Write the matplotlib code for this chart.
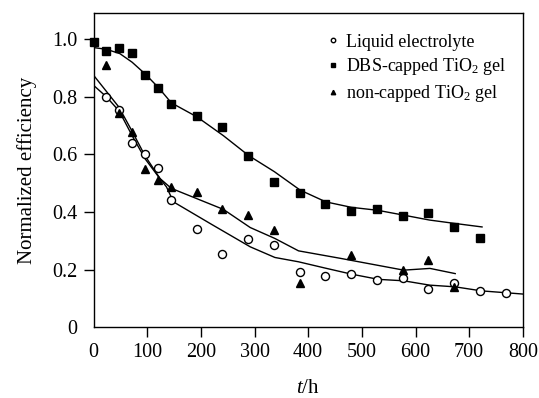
import matplotlib
matplotlib.use("Agg")
import matplotlib.pyplot as plt

plt.rcParams["font.family"] = ["Liberation Serif", "DejaVu Serif"]
plt.rcParams["mathtext.fontset"] = "custom"
plt.rcParams["mathtext.rm"] = "Liberation Serif"
plt.rcParams["mathtext.it"] = "Liberation Serif:italic"

# measured points (t in hours)
liquid_t = [24, 48, 72, 96, 120, 144, 192, 240, 288, 336, 384, 432, 480, 528, 576, 624, 672, 720, 768]
liquid_eff = [0.80, 0.753, 0.638, 0.603, 0.551, 0.443, 0.340, 0.253, 0.306, 0.285, 0.191, 0.177,
              0.186, 0.163, 0.170, 0.134, 0.154, 0.124, 0.117]

dbs_t = [0, 24, 48, 72, 96, 120, 144, 192, 240, 288, 336, 384, 432, 480, 528, 576, 624, 672, 720]
dbs_eff = [0.99, 0.96, 0.968, 0.952, 0.874, 0.829, 0.775, 0.735, 0.695, 0.596, 0.503, 0.466,
           0.426, 0.404, 0.410, 0.387, 0.395, 0.347, 0.308]

noncap_t = [24, 48, 72, 96, 120, 144, 192, 240, 288, 336, 384, 480, 576, 624, 672]
noncap_eff = [0.912, 0.742, 0.678, 0.549, 0.51, 0.487, 0.47, 0.412, 0.389, 0.337, 0.154,
              0.252, 0.200, 0.233, 0.140]

# fitted trend lines
liquid_fit_t = [0, 24, 48, 72, 96, 120, 136, 149, 220, 292, 338, 382, 432, 481, 531, 578, 626, 674, 723, 800]
liquid_fit = [0.84, 0.80, 0.75, 0.665, 0.585, 0.525, 0.487, 0.435, 0.357, 0.279, 0.242, 0.227,
              0.205, 0.184, 0.166, 0.161, 0.146, 0.14, 0.126, 0.115]

noncap_fit_t = [0, 47, 72, 96, 124, 145, 242, 292, 338, 382, 460, 578, 627, 674]
noncap_fit = [0.875, 0.765, 0.68, 0.595, 0.516, 0.482, 0.409, 0.346, 0.308, 0.265, 0.239,
              0.198, 0.204, 0.186]

dbs_fit_t = [0, 24, 49, 72, 97, 121, 145, 193, 242, 289, 337, 385, 433, 481, 529, 578, 626, 674, 724]
dbs_fit = [0.971, 0.965, 0.95, 0.92, 0.878, 0.832, 0.779, 0.73, 0.665, 0.596, 0.54, 0.476,
           0.435, 0.416, 0.406, 0.389, 0.372, 0.36, 0.348]

fig = plt.figure(figsize=(5.39, 3.98), dpi=100)
ax = fig.add_axes([0.1735, 0.178, 0.7965, 0.7886])

ax.plot(liquid_fit_t, liquid_fit, color="black", lw=1.0)
ax.plot(noncap_fit_t, noncap_fit, color="black", lw=1.0)
ax.plot(dbs_fit_t, dbs_fit, color="black", lw=1.0)

ax.plot(liquid_t, liquid_eff, "o", ms=5.8, mfc="white", mec="black", mew=1.0,
        label="Liquid electrolyte", clip_on=False)
ax.plot(dbs_t, dbs_eff, "s", ms=5.2, color="black",
        label="DBS-capped TiO$_2$ gel", clip_on=False)
ax.plot(noncap_t, noncap_eff, "^", ms=5.8, color="black",
        label="non-capped TiO$_2$ gel", clip_on=False)

ax.set_xlim(0, 800)
ax.set_ylim(0, 1.09)
ax.set_xticks([0, 100, 200, 300, 400, 500, 600, 700, 800])
ax.set_yticks([0, 0.2, 0.4, 0.6, 0.8, 1.0])
ax.set_yticklabels(["0", "0.2", "0.4", "0.6", "0.8", "1.0"])
ax.tick_params(direction="out", length=7, width=1.0, labelsize=14.5, pad=4.5)
ax.xaxis.get_major_ticks()[0].tick1line.set_visible(False)
ax.yaxis.get_major_ticks()[0].tick1line.set_visible(False)
for sp in ax.spines.values():
    sp.set_linewidth(1.0)

ax.set_ylabel("Normalized efficiency", fontsize=15, labelpad=11)
ax.set_xlabel("$t$/h", fontsize=15, labelpad=12)

ax.legend(loc="upper left", bbox_to_anchor=(0.541, 0.935), frameon=False, fontsize=13,
          markerscale=0.55, handlelength=0.8, handletextpad=0.3, labelspacing=0.32,
          borderaxespad=0, borderpad=0)

fig.savefig("out.png", dpi=100)
